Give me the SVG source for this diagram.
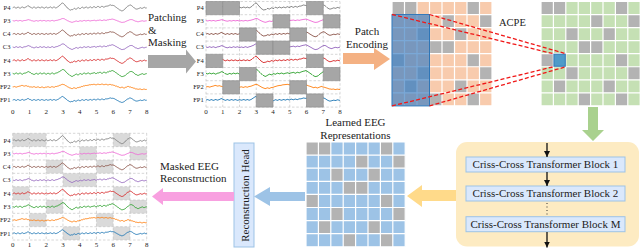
<svg xmlns="http://www.w3.org/2000/svg" xmlns:xlink="http://www.w3.org/1999/xlink" width="640" height="248" viewBox="0 0 640 248">
<defs>
<style>
text{font-family:"Liberation Serif","Times New Roman",serif;fill:#222}
.lbl{font-size:11px}
.mid{text-anchor:middle}
.ch{font-size:6.5px;text-anchor:end}
.tk{font-size:7px;text-anchor:middle}
.sig{fill:none;stroke-width:0.9;stroke-linejoin:round}
.dash{fill:none;stroke:#bcbcbc;stroke-width:0.6;stroke-dasharray:2.5,1.8}
.wgrid{fill:none;stroke:#fff;stroke-width:1.2}
.blk{fill:#dae8fc;stroke:#9dc3e6;stroke-width:1}
.red{stroke:#f01818;stroke-width:1.3;stroke-dasharray:4,2.2;fill:none}
.bar{stroke:#111;stroke-width:1.3;fill:none}
</style>
<marker id="ah" viewBox="0 0 6 6" refX="6" refY="3" markerWidth="6" markerHeight="6" markerUnits="userSpaceOnUse" orient="auto"><path d="M0,0L6,3L0,6z" fill="#111"/></marker>
<path id="sA" class="sig" vector-effect="non-scaling-stroke" d="M0,0.3 L1,-0.3 2,-0.4 3,0.5 4,0.6 5,-0.5 6,-0.2 7,0.6 8,0.5 9,-0.3 10,-0.6 11,0.4 12,0.2 13,-0.4 14,-0.8 15,-1.8 16,-1.6 17,-0.5 18,-0.4 19,0.6 20,0.5 21,-0.4 22,-0.3 23,0.6 24,0.4 25,-0.3 26,-0.5 27,0.5 28,0.3 29,-0.5 30,-0.2 31,0.4 32,0.6 33,-0.2 34,-0.4 35,0.5 36,0.2 37,-0.2 38,-0.6 39,0.3 40,0.4 41,-0.5 42,-0.3 43,0.5 44,0.1 45,-0.6 46,-1.2 47,-2.4 48,-3 49,-4.2 50,-4.6 51,-3.6 52,-2.8 53,-1.2 54,-0.6 55,0.9 56,1.4 57,2.3 58,2.6 59,2.0 60,2.2 61,1.2 62,0.8 63,1.7 64,1.4 65,0.5 66,0.2 67,1.1 68,0.9 69,-0.1 70,-0.3 71,0.6 72,0.5 73,-0.5 74,-0.4 75,0.5 76,0.3 77,-0.3 78,-0.6 79,0.3 80,0.1 81,-0.8 82,-0.7 83,0.1 84,-0.2 85,-1.1 86,-0.9 87,-0.1 88,-0.3 89,-1.2 90,-1 91,-0.3 92,-0.5 93,-1.5 94,-1.3 95,-1.5 96,-1.8 97,-2.4 98,-2.6 99,-2.0 100,-2.2 101,-1.9 102,-1.4 103,-0.5 104,0.2 105,1.0 106,1.6 107,2.5 108,2.8 109,3.4 110,3.2 111,2.6 112,1.8 113,0.6 114,-0.4 115,-1.3 116,-1.6 117,-2.6 118,-2.4 119,-1.8 120,-1 121,0.1 122,0.6 123,1.4 124,1.6 125,1.4 126,1 127,0.6 128,0.2 129,0.9 130,0.7 131,0.1 132,-0.2 133,0.6 134,0.4"/>
<path id="sB" class="sig" vector-effect="non-scaling-stroke" d="M0,-0.2 L1,0.3 2,0.5 3,-0.3 4,-0.5 5,0.4 6,0.3 7,-0.4 8,-0.3 9,0.5 10,0.7 11,-0.2 12,-0.4 13,-0.5 14,-1 15,-1.6 16,-1.9 17,-1.2 18,-0.8 19,0.2 20,0.3 21,0.9 22,0.8 23,0.1 24,-0.2 25,0.6 26,0.5 27,-0.3 28,-0.5 29,0.4 30,0.2 31,-0.4 32,-0.3 33,0.5 34,0.6 35,-0.2 36,-0.1 37,0.5 38,0.4 39,-0.4 40,-0.5 41,0.4 42,0.3 43,-0.4 44,-0.6 45,-0.9 46,-1.6 47,-2.0 48,-2.6 49,-3.6 50,-4 51,-3.8 52,-3.2 53,-1.8 54,-1 55,0.2 56,0.8 57,1.8 58,2.2 59,2.9 60,2.8 61,2.0 62,1.6 63,0.8 64,0.6 65,1.4 66,1.2 67,0.3 68,0.1 69,0.8 70,0.6 71,-0.3 72,-0.4 73,0.4 74,0.2 75,-0.4 76,-0.5 77,0.3 78,0.4 79,-0.2 80,-0.3 81,-0.6 82,-0.8 83,0.1 84,-0.1 85,-0.8 86,-0.6 87,-1.2 88,-1.1 89,-0.2 90,-0.4 91,-1.3 92,-1.2 93,-0.6 94,-0.8 95,-1.7 96,-1.6 97,-2.4 98,-2.2 99,-2.8 100,-2.9 101,-2.3 102,-1.8 103,-0.9 104,-0.4 105,0.5 106,1 107,2.0 108,2.4 109,3.1 110,3 111,2.7 112,2.4 113,1.4 114,0.6 115,-0.2 116,-0.8 117,-1.7 118,-2 119,-2.0 120,-1.6 121,-0.6 122,0.2 123,1.0 124,1.2 125,1.9 126,1.8 127,1.2 128,0.8 129,0.4 130,0.2 131,0.9 132,0.8 133,0.3 134,0.1"/>
<path id="sC" class="sig" vector-effect="non-scaling-stroke" d="M0,0.2 L1,0.1 2,-0.2 3,0.3 4,0.4 5,-0.1 6,-0.3 7,-0.6 8,-0.8 9,-1.3 10,-1.2 11,-0.7 12,-0.6 13,-1.0 14,-0.9 15,-0.3 16,-0.4 17,0.3 18,0.2 19,0.3 20,0.5 21,0.0 22,0.1 23,0.7 24,0.6 25,0.2 26,0.3 27,0.9 28,0.8 29,0.3 30,0.4 31,1.0 32,0.9 33,0.4 34,0.5 35,0.1 36,0.2 37,0.7 38,0.6 39,0.0 40,0.1 41,0.5 42,0.4 43,-0.3 44,-0.2 45,-0.6 46,-0.8 47,-1.4 48,-1.6 49,-2.2 50,-2.4 51,-2.1 52,-1.8 53,-1.0 54,-0.6 55,0.2 56,0.6 57,1.2 58,1.4 59,1.9 60,1.8 61,1.1 62,1.2 63,1.7 64,1.6 65,0.8 66,0.9 67,0.5 68,0.4 69,-0.3 70,-0.2 71,-0.9 72,-0.8 73,-1.3 74,-1.2 75,-1.4 76,-1.6 77,-2.0 78,-1.9 79,-2.2 80,-2.1 81,-2.4 82,-2.3 83,-1.9 84,-2 85,-2.5 86,-2.4 87,-2.1 88,-2.2 89,-2.6 90,-2.5 91,-2.0 92,-2.1 93,-2.4 94,-2.3 95,-1.8 96,-1.9 97,-2.3 98,-2.2 99,-1.7 100,-1.8 101,-1.4 102,-1.2 103,-0.5 104,-0.6 105,0.1 106,0.2 107,0.9 108,1 109,0.5 110,0.6 111,1.3 112,1.2 113,0.5 114,0.4 115,-0.3 116,-0.2 117,0.4 118,0.3 119,0.9 120,1 121,1.5 122,1.6 123,2.3 124,2.2 125,2.5 126,2.6 127,2.3 128,2.4 129,2.9 130,2.8 131,2.4 132,2.5 133,2.8 134,2.7"/>
<g id="mask">
<rect x="0" y="0" width="1" height="1" vector-effect="non-scaling-stroke"/><rect x="1" y="0" width="1" height="1" vector-effect="non-scaling-stroke"/><rect x="6" y="0" width="1" height="1" vector-effect="non-scaling-stroke"/>
<rect x="4" y="1" width="1" height="1" vector-effect="non-scaling-stroke"/><rect x="7" y="1" width="1" height="1" vector-effect="non-scaling-stroke"/>
<rect x="2" y="2" width="1" height="1" vector-effect="non-scaling-stroke"/><rect x="5" y="2" width="1" height="1" vector-effect="non-scaling-stroke"/>
<rect x="3" y="3" width="1" height="1" vector-effect="non-scaling-stroke"/><rect x="4" y="3" width="1" height="1" vector-effect="non-scaling-stroke"/>
<rect x="0" y="4" width="1" height="1" vector-effect="non-scaling-stroke"/><rect x="6" y="4" width="1" height="1" vector-effect="non-scaling-stroke"/>
<rect x="2" y="5" width="1" height="1" vector-effect="non-scaling-stroke"/><rect x="7" y="5" width="1" height="1" vector-effect="non-scaling-stroke"/>
<rect x="1" y="6" width="1" height="1" vector-effect="non-scaling-stroke"/><rect x="5" y="6" width="1" height="1" vector-effect="non-scaling-stroke"/>
<rect x="3" y="7" width="1" height="1" vector-effect="non-scaling-stroke"/><rect x="6" y="7" width="1" height="1" vector-effect="non-scaling-stroke"/>
</g>
<path id="ugrid" vector-effect="non-scaling-stroke" d="M0,0V8M1,0V8M2,0V8M3,0V8M4,0V8M5,0V8M6,0V8M7,0V8M8,0V8M0,0H8M0,1H8M0,2H8M0,3H8M0,4H8M0,5H8M0,6H8M0,7H8M0,8H8"/>
<g id="eeg">
<use href="#sA" stroke="#7f7f7f" transform="translate(0,0)"/>
<use href="#sB" stroke="#ee6ad6" transform="translate(0,13.2) scale(1,0.55)"/>
<use href="#sA" stroke="#8c564b" transform="translate(0,26.4) scale(1,0.85)"/>
<use href="#sB" stroke="#9467bd" transform="translate(0,39.6) scale(1,0.8)"/>
<use href="#sA" stroke="#d62728" transform="translate(0,52.8) scale(1,0.9)"/>
<use href="#sB" stroke="#2ca02c" transform="translate(0,66)"/>
<use href="#sC" stroke="#ff7f0e" transform="translate(0,79.2)"/>
<use href="#sA" stroke="#1f77b4" transform="translate(0,92.4) scale(1,0.75)"/>
<text class="ch" x="-2.3" y="2.3">P4</text>
<text class="ch" x="-2.3" y="15.5">P3</text>
<text class="ch" x="-2.3" y="28.7">C4</text>
<text class="ch" x="-2.3" y="41.9">C3</text>
<text class="ch" x="-2.3" y="55.1">F4</text>
<text class="ch" x="-2.3" y="68.3">F3</text>
<text class="ch" x="-2.3" y="81.5">FP2</text>
<text class="ch" x="-2.3" y="94.7">FP1</text>
<text class="tk" x="0" y="106">0</text>
<text class="tk" x="16.75" y="106">1</text>
<text class="tk" x="33.5" y="106">2</text>
<text class="tk" x="50.25" y="106">3</text>
<text class="tk" x="67" y="106">4</text>
<text class="tk" x="83.75" y="106">5</text>
<text class="tk" x="100.5" y="106">6</text>
<text class="tk" x="117.25" y="106">7</text>
<text class="tk" x="134" y="106">8</text>
</g>
</defs>

<g id="raw-eeg">
<use href="#eeg" transform="translate(12.7,7.5)"/>
</g>

<g id="patched-eeg">
<use href="#ugrid" class="dash" transform="translate(206,1.5) scale(16.75,13.2)"/>
<use href="#eeg" transform="translate(206,7.5)"/>
<use href="#mask" fill="#a6a6a6" stroke="#8c8c8c" stroke-width="0.6" transform="translate(206,1.5) scale(16.75,13.2)"/>
</g>

<g id="patch-grid">
<rect x="392" y="1.5" width="100" height="104.4" fill="#f8cbad"/>
<use href="#mask" fill="#b3b3b3" transform="translate(392,1.5) scale(12.5,13.05)"/>
<use href="#ugrid" class="wgrid" transform="translate(392,1.5) scale(12.5,13.05)"/>
<rect x="392" y="14.55" width="37.5" height="91.35" fill="#3b7fc4" fill-opacity="0.68" stroke="#2e75b6" stroke-width="1"/>
</g>

<g id="acpe-grid">
<rect x="541" y="1.5" width="99.2" height="104.4" fill="#c5e0b4"/>
<use href="#mask" fill="#b3b3b3" transform="translate(541,1.5) scale(12.4,13.05)"/>
<rect x="553.4" y="53.7" width="12.4" height="13.05" fill="#4f9bc9"/>
<use href="#ugrid" class="wgrid" transform="translate(541,1.5) scale(12.4,13.05)"/>
<rect x="553.9" y="54.2" width="11.4" height="12.05" fill="none" stroke="#2e75b6" stroke-width="1"/>
<text class="lbl" x="499" y="25.5" style="font-size:10.5px">ACPE</text>
</g>

<g id="transformer">
<rect x="456" y="142" width="183" height="104.5" rx="11" fill="#fdebc2"/>
<rect class="blk" x="466" y="157" width="159" height="15"/>
<rect class="blk" x="466" y="186" width="159" height="15"/>
<rect class="blk" x="466" y="216.7" width="159" height="15"/>
<text class="lbl mid" x="545.5" y="168.3">Criss-Cross Transformer Block 1</text>
<text class="lbl mid" x="545.5" y="197.3">Criss-Cross Transformer Block 2</text>
<text class="lbl mid" x="545.5" y="228">Criss-Cross Transformer Block M</text>
<line class="bar" x1="547" y1="143" x2="547" y2="157" marker-end="url(#ah)"/>
<line class="bar" x1="547" y1="172" x2="547" y2="186" marker-end="url(#ah)"/>
<line x1="547" y1="203" x2="547" y2="215" stroke="#333" stroke-width="1" stroke-dasharray="1,2.5"/>
<line class="bar" x1="547" y1="232" x2="547" y2="247.5" marker-end="url(#ah)"/>
</g>

<g id="learned-grid">
<rect x="306" y="142" width="99.2" height="104.8" fill="#9dc3e6"/>
<use href="#mask" fill="#b3b3b3" transform="translate(306,142) scale(12.4,13.1)"/>
<use href="#ugrid" class="wgrid" transform="translate(306,142) scale(12.4,13.1)"/>
<text class="lbl mid" x="355.5" y="126">Learned EEG</text>
<text class="lbl mid" x="355.5" y="138.5">Representations</text>
</g>

<g id="recon-head">
<rect x="234" y="143" width="20" height="104" fill="#dae8fc" stroke="#9dc3e6" stroke-width="1"/>
<text class="lbl mid" transform="translate(244.5,195.5) rotate(-90)" dominant-baseline="central">Reconstruction Head</text>
</g>

<g id="recon-eeg">
<use href="#mask" fill="#dadada" transform="translate(12.7,133.3) scale(16.75,13.34)"/>
<use href="#ugrid" class="dash" transform="translate(12.7,133.3) scale(16.75,13.34)"/>
<use href="#eeg" transform="translate(12.7,140.3) scale(1,1.006)"/>
</g>

<g id="connectors">
<polygon points="148,55 186,55 186,49.5 196,61.5 186,73.5 186,68 148,68" fill="#a6a6a6"/>
<text class="lbl" x="148" y="20.7">Patching</text>
<text class="lbl" x="148" y="33.5">&amp;</text>
<text class="lbl" x="148" y="45.8">Masking</text>
<polygon points="343,53 374,53 374,48 390,59 374,70 374,64 343,64" fill="#f4b183"/>
<text class="lbl mid" x="367" y="35">Patch</text>
<text class="lbl mid" x="367" y="48">Encoding</text>
<line class="red" x1="392" y1="14.5" x2="553.4" y2="53.7"/>
<line class="red" x1="429.5" y1="14.5" x2="565.8" y2="53.7"/>
<line class="red" x1="392" y1="105.9" x2="553.4" y2="66.8"/>
<line class="red" x1="429.5" y1="105.9" x2="565.8" y2="66.8"/>
<polygon points="588,107 598,107 598,130 604,130 593,141 582,130 588,130" fill="#a9d18e"/>
<polygon points="456,190 422,190 422,185 407,196 422,207 422,201 456,201" fill="#ffda8a"/>
<polygon points="305,192 270,192 270,187 254,196.5 270,206 270,201 305,201" fill="#9dc3e6"/>
<polygon points="234,192 163,192 163,188 152,196.5 163,205 163,201 234,201" fill="#f8a0e0"/>
<text class="lbl" x="160" y="170">Masked EEG</text>
<text class="lbl" x="160" y="182.3">Reconstruction</text>
</g>
</svg>
